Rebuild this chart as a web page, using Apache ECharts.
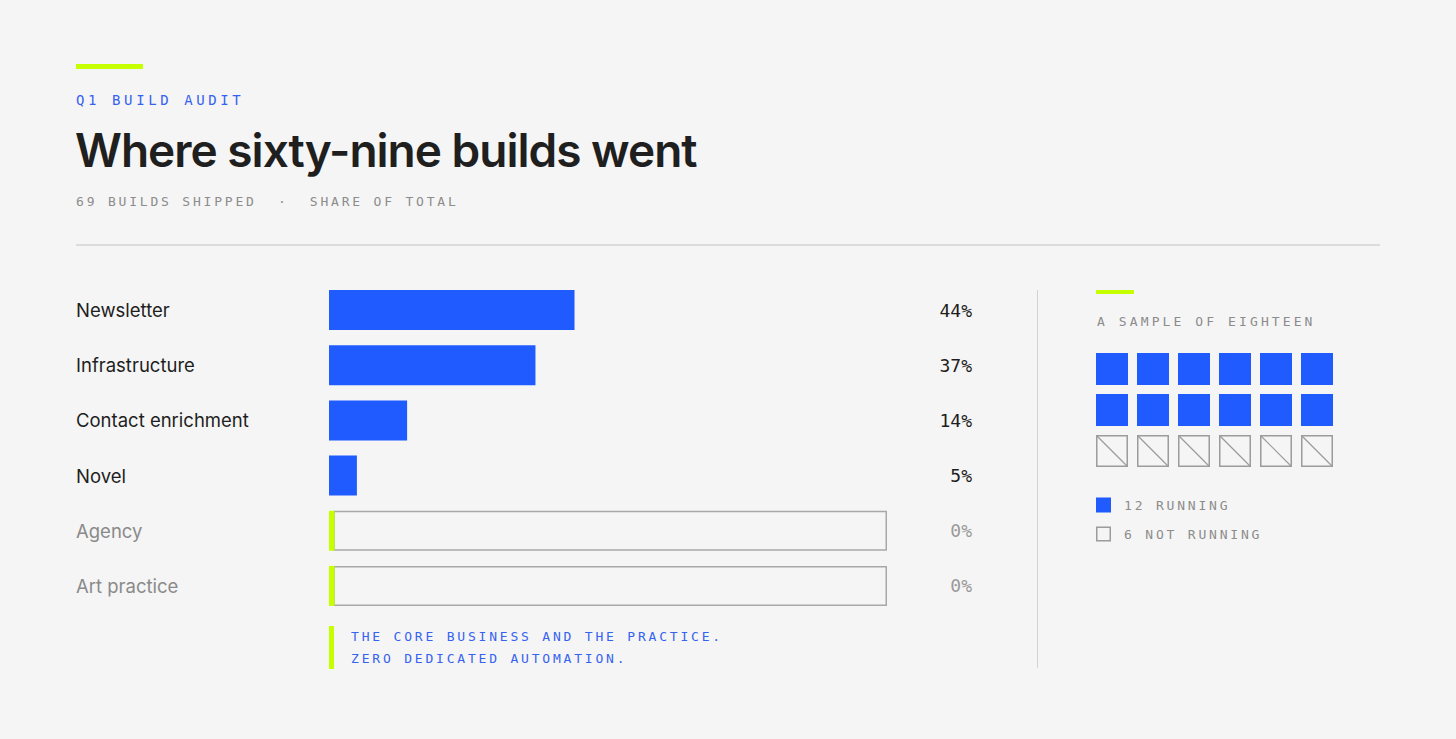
<!DOCTYPE html>
<html>
<head>
<meta charset="utf-8">
<title>Q1 build audit</title>
<script src="https://cdn.jsdelivr.net/npm/echarts@6/dist/echarts.min.js"></script>
<style>
  html, body { margin: 0; padding: 0; background: #f5f5f5; }
  #chart { width: 1456px; height: 739px; }
  /* svg renderer: letter spacing keyed on a marker family name */
  text { white-space: pre; }
  [style*="lsA"], [font-family*="lsA"] { letter-spacing: 3.6px; }
  [style*="lsB"], [font-family*="lsB"] { letter-spacing: 2.8px; }
  [style*="lsC"], [font-family*="lsC"] { letter-spacing: 3.1px; }
  [style*="lsT"], [font-family*="lsT"] { letter-spacing: -1px; }
</style>
</head>
<body>
<div id="chart"></div>
<script>
const categories = ["Newsletter", "Infrastructure", "Contact enrichment", "Novel", "Agency", "Art practice"];
const shares = [44, 37, 14, 5, 0, 0];
const totalBuilds = 69;
const sampleRunning = 12;
const sampleNotRunning = 6;
const waffleCols = ["1", "2", "3", "4", "5", "6"];
const waffleRows = ["1", "2", "3"];
const trackMax = 100;

const BLUE = "#1f5bff";
const LIME = "#c6ff00";
const INK = "#1e1e1e";
const GREY = "#8a8a8a";
const MONO = "'DejaVu Sans Mono', monospace";

// rows with nothing in them get an empty outlined track
const zeroRows = shares.map((v, i) => (v === 0 ? [trackMax, i] : null)).filter(Boolean);

// waffle cells: [col, row, running?]
const cells = [];
for (let i = 0; i < sampleRunning + sampleNotRunning; i++) {
  cells.push([i % waffleCols.length, Math.floor(i / waffleCols.length), i < sampleRunning ? 1 : 0]);
}

const isZero = (name) => shares[categories.indexOf(name)] === 0;

const chart = echarts.init(document.getElementById("chart"), null, { renderer: "svg" });

chart.setOption({
  backgroundColor: "#f5f5f5",
  animation: false,
  grid: [
    { left: 329, top: 282.5, width: 558, height: 331 },
    { left: 1091.5, top: 348.5, width: 246, height: 123 }
  ],
  xAxis: [
    { gridIndex: 0, type: "value", min: 0, max: trackMax, show: false },
    { gridIndex: 1, type: "category", data: waffleCols, show: false }
  ],
  yAxis: [
    {
      gridIndex: 0,
      type: "category",
      data: categories,
      inverse: true,
      axisLine: { show: false },
      axisTick: { show: false },
      splitLine: { show: false },
      axisLabel: {
        align: "left",
        margin: 253,
        fontFamily: "Inter",
        fontSize: 18.5,
        color: (v) => (isZero(v) ? GREY : INK)
      }
    },
    {
      gridIndex: 0,
      type: "category",
      position: "right",
      data: categories,
      inverse: true,
      axisLine: { show: false },
      axisTick: { show: false },
      splitLine: { show: false },
      axisLabel: {
        align: "right",
        margin: 85,
        fontFamily: MONO,
        fontSize: 18,
        formatter: (v, i) => shares[i] + "%",
        color: (v) => (isZero(v) ? "#9a9a9a" : INK)
      }
    },
    { gridIndex: 1, type: "category", data: waffleRows, inverse: true, show: false }
  ],
  series: [
    {
      name: "Share",
      type: "bar",
      xAxisIndex: 0,
      yAxisIndex: 0,
      data: shares,
      barWidth: 40,
      itemStyle: { color: BLUE },
      silent: true
    },
    {
      name: "Empty track",
      type: "custom",
      xAxisIndex: 0,
      yAxisIndex: 0,
      data: zeroRows,
      encode: { x: 0, y: 1 },
      silent: true,
      renderItem: (params, api) => {
        const start = api.coord([0, api.value(1)]);
        const end = api.coord([api.value(0), api.value(1)]);
        const h = 40;
        const top = start[1] - h / 2;
        return {
          type: "group",
          children: [
            {
              type: "rect",
              shape: { x: start[0] + 5, y: top + 0.75, width: end[0] - start[0] - 5.75, height: h - 1.5 },
              style: { fill: "none", stroke: "#a8a8a8", lineWidth: 1.5 }
            },
            {
              type: "rect",
              shape: { x: start[0], y: top, width: 5.5, height: h },
              style: { fill: LIME }
            }
          ]
        };
      }
    },
    {
      name: "Sample",
      type: "custom",
      xAxisIndex: 1,
      yAxisIndex: 2,
      data: cells,
      encode: { x: 0, y: 1 },
      silent: true,
      renderItem: (params, api) => {
        const c = api.coord([api.value(0), api.value(1)]);
        const s = api.size([1, 1]);
        const w = s[0] * 0.78;
        const h = s[1] * 0.78;
        const x = c[0] - w / 2;
        const y = c[1] - h / 2;
        if (api.value(2) === 1) {
          return { type: "rect", shape: { x, y, width: w, height: h }, style: { fill: BLUE } };
        }
        return {
          type: "group",
          children: [
            {
              type: "rect",
              shape: { x: x + 0.75, y: y + 0.75, width: w - 1.5, height: h - 1.5 },
              style: { fill: "none", stroke: "#9c9c9c", lineWidth: 1.5 }
            },
            {
              type: "line",
              shape: { x1: x + 1, y1: y + 1, x2: x + w - 1, y2: y + h - 1 },
              style: { stroke: "#9c9c9c", lineWidth: 1.2 }
            }
          ]
        };
      }
    }
  ],
  graphic: [
    // header
    { type: "rect", shape: { x: 76, y: 64, width: 67, height: 5 }, style: { fill: LIME } },
    {
      type: "text", x: 76, y: 100,
      style: { text: "Q1 BUILD AUDIT", fill: "#3563f0", font: "14px 'DejaVu Sans Mono', lsA", textVerticalAlign: "middle" }
    },
    {
      type: "text", x: 75, y: 150,
      style: { text: "Where sixty-nine builds went", fill: "#1f1f1f", font: "600 46px Inter, lsT", textVerticalAlign: "middle" }
    },
    {
      type: "text", x: 76, y: 201,
      style: { text: totalBuilds + " BUILDS SHIPPED  \u00b7  SHARE OF TOTAL", fill: "#8c8c8c", font: "13px 'DejaVu Sans Mono', lsB", textVerticalAlign: "middle" }
    },
    { type: "rect", shape: { x: 76, y: 244, width: 1304, height: 2 }, style: { fill: "#dcdcdc" } },

    // note under the bars
    { type: "rect", shape: { x: 329, y: 626, width: 5, height: 43 }, style: { fill: LIME } },
    {
      type: "text", x: 351, y: 636,
      style: { text: "THE CORE BUSINESS AND THE PRACTICE.", fill: "#3563f0", font: "13px 'DejaVu Sans Mono', lsB", textVerticalAlign: "middle" }
    },
    {
      type: "text", x: 351, y: 658,
      style: { text: "ZERO DEDICATED AUTOMATION.", fill: "#3563f0", font: "13px 'DejaVu Sans Mono', lsB", textVerticalAlign: "middle" }
    },

    // panel divider
    { type: "rect", shape: { x: 1037, y: 290, width: 1, height: 378 }, style: { fill: "#d2d2d2" } },

    // sample panel
    { type: "rect", shape: { x: 1096, y: 290, width: 38, height: 4 }, style: { fill: LIME } },
    {
      type: "text", x: 1097, y: 321,
      style: { text: "A SAMPLE OF EIGHTEEN", fill: "#8c8c8c", font: "13px 'DejaVu Sans Mono', lsC", textVerticalAlign: "middle" }
    },
    { type: "rect", shape: { x: 1096, y: 497.5, width: 15, height: 15 }, style: { fill: BLUE } },
    {
      type: "text", x: 1124, y: 505.5,
      style: { text: sampleRunning + " RUNNING", fill: "#8c8c8c", font: "13px 'DejaVu Sans Mono', lsB", textVerticalAlign: "middle" }
    },
    { type: "rect", shape: { x: 1096.75, y: 527.25, width: 13.5, height: 13.5 }, style: { fill: "none", stroke: "#9c9c9c", lineWidth: 1.5 } },
    {
      type: "text", x: 1124, y: 534.5,
      style: { text: sampleNotRunning + " NOT RUNNING", fill: "#8c8c8c", font: "13px 'DejaVu Sans Mono', lsB", textVerticalAlign: "middle" }
    }
  ]
});
</script>
</body>
</html>
